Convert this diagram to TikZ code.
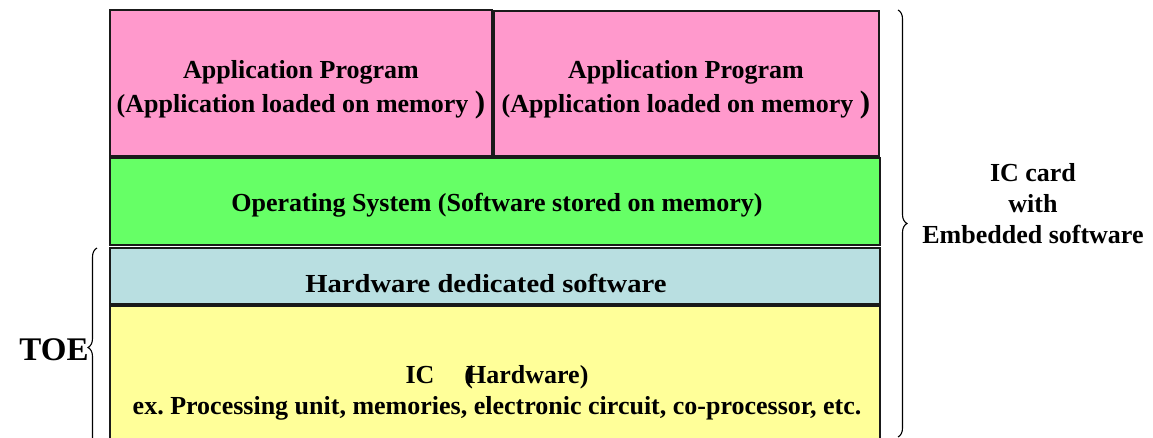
\documentclass[tikz,border=0pt]{standalone}
\usepackage{fontspec}
\setmainfont{Liberation Serif}
\usetikzlibrary{decorations.pathreplacing}

\definecolor{apppink}{HTML}{FF99CC}
\definecolor{osgreen}{HTML}{66FF66}
\definecolor{hwblue}{HTML}{B9DFE1}
\definecolor{icyellow}{HTML}{FFFF99}
\definecolor{edge}{HTML}{1A1A1A}

\newcommand{\bigparen}{{\fontsize{31}{31}\selectfont )}}
\frenchspacing

\begin{document}
\begin{tikzpicture}[x=1pt,y=-1pt,
  layer/.style={draw=edge, line width=1.6pt, anchor=north west, inner sep=0pt, outer sep=0pt},
  lbl/.style={font=\fontsize{26}{33}\selectfont\bfseries, align=center, anchor=base, inner sep=0pt},
  curly/.style={draw=black, line width=1.1pt, decorate, decoration={brace, amplitude=9pt}}]
\useasboundingbox (0,0) rectangle (1153,437);

% stacked layers of the card
\node[layer, fill=apppink, minimum width=382pt, minimum height=146pt] (app1) at (110,10) {};
\node[layer, fill=apppink, minimum width=385pt, minimum height=145pt] (app2) at (494,11) {};
\node[layer, fill=osgreen, minimum width=770pt, minimum height=87pt] (os) at (110,158) {};
\node[layer, fill=hwblue, minimum width=770pt, minimum height=56pt] (hwsw) at (110,248) {};
\node[layer, fill=icyellow, minimum width=770pt, minimum height=140pt] (ic) at (110,306) {};

% layer captions (base anchor = baseline of the last line)
\node[lbl] (app1t) at (301,112) {Application Program\\[1pt](Application loaded on memory \bigparen};
\node[lbl] (app2t) at (686,112) {Application Program\\[1pt](Application loaded on memory \bigparen};
\node[lbl] (ost) at (497,211) {Operating System (Software stored on memory)};
\node[lbl] (hwswt) at (486,292) {\scalebox{1.1}[1]{Hardware dedicated software}};
\node[lbl] (ict) at (497,414) {IC\hspace{30pt}(\kern-7pt Hardware)\\[-2pt]ex. Processing unit, memories, electronic circuit, co-processor, etc.};

% braces and their labels
\coordinate (rtop) at (898,10);
\coordinate (rbot) at (898,437);
\draw[curly] (rtop) -- (rbot);
\coordinate (lbot) at (97,447);
\coordinate (ltop) at (97,248);
\draw[curly] (lbot) -- (ltop);

\node[lbl] (card) at (1033,243) {IC card\\[-2pt]with\\[-2pt]Embedded software};
\node[lbl, font=\fontsize{33}{33}\selectfont\bfseries] (toe) at (54,360) {TOE};
\end{tikzpicture}
\end{document}
